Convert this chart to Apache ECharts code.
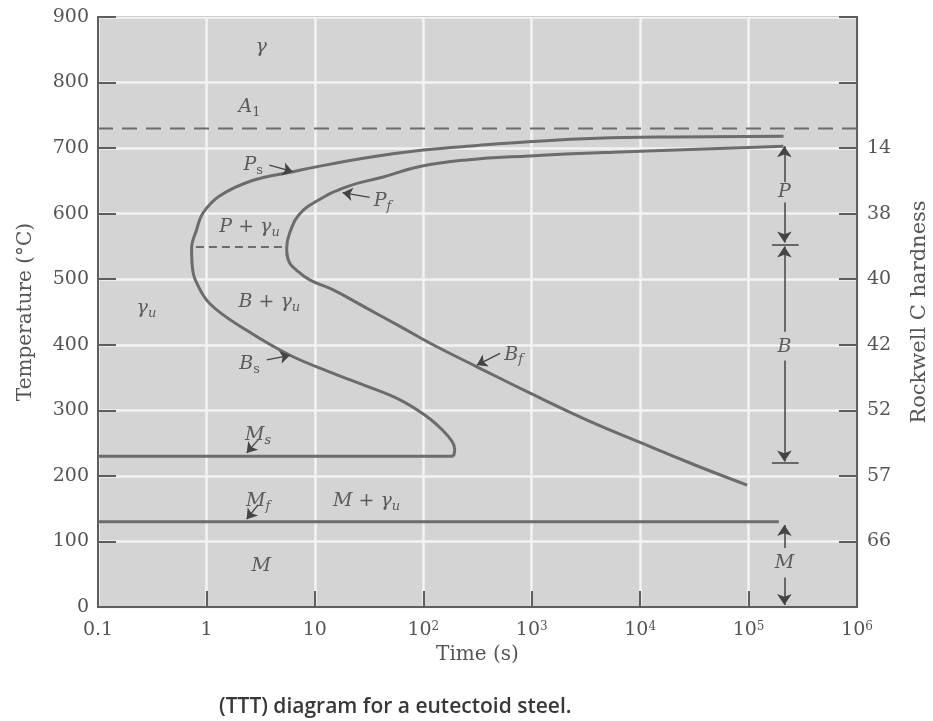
<!DOCTYPE html>
<html>
<head>
<meta charset="utf-8">
<title>TTT diagram</title>
<script src="https://cdn.jsdelivr.net/npm/echarts@6/dist/echarts.min.js"></script>
<style>
  html, body { margin: 0; padding: 0; background: #fff; }
  #ttt { width: 933px; height: 721px; }
</style>
</head>
<body>
<div id="ttt"></div>
<script>
// time in s (log axis), temperature in degC

const a1Line = [[0.1, 730], [1e6, 730]];

// start of transformation: Ps upper branch, nose, Bs lower branch
const psBsCurve = [
  [2.1e5, 718], [2e4, 717], [4e3, 715], [1e3, 710], [316, 704], [100, 697],
  [32, 686], [10, 671], [6.3, 664], [2.7, 651], [1.32, 627], [0.93, 601],
  [0.81, 575], [0.73, 547], [0.74, 520], [0.79, 499], [1.07, 463], [2.35, 422],
  [5.9, 384], [15, 356], [30, 337], [61, 316], [107, 291], [150, 270],
  [185, 252], [195, 240], [190, 230]
];

// end of transformation: Pf upper branch, nose, Bf
const pfBfCurve = [
  [2.1e5, 703], [6.5e3, 694], [950, 688], [251, 682], [93, 672], [42.7, 656],
  [19.6, 641], [10.35, 619], [7.1, 598], [6.0, 575], [5.5, 548], [5.8, 526],
  [6.76, 514], [8.97, 499], [14.6, 484], [30, 456], [61, 428], [123, 400],
  [316, 366], [1e3, 325], [3160, 286], [1e4, 251], [3.16e4, 217], [9.7e4, 186]
];

const msLine = [[190, 230], [0.1, 230]];
const mfLine = [[0.1, 130], [1.9e5, 130]];
const noseDash = [[0.8, 549], [5.6, 549]];

// small pointer arrows [tail, tip]
const pointers = [
  [[3.8, 674], [6.25, 664]],   // Ps
  [[32, 625], [18, 632]],      // Pf
  [[3.6, 377], [5.9, 384]],    // Bs
  [[510, 387], [312, 369]],    // Bf
  [[3.0, 255], [2.35, 235]],   // Ms
  [[3.0, 156], [2.35, 134]]    // Mf
];

// product ranges on the right
const rangeX = 2.14e5;
const rangeArrows = [
  [[rangeX, 648], [rangeX, 703]],
  [[rangeX, 617], [rangeX, 556]],
  [[rangeX, 420], [rangeX, 550]],
  [[rangeX, 376], [rangeX, 222]],
  [[rangeX, 90], [rangeX, 125]],
  [[rangeX, 45], [rangeX, 3]]
];
const rangeTicks = [
  [[1.64e5, 553], [2.9e5, 553]],
  [[1.64e5, 220], [2.9e5, 220]]
];

const regionLabels = [
  [3.2, 854, '{i|γ}'],
  [2.5, 763, '{i|A}{subr|1}'],
  [2.7, 674, '{i|P}{subr|s}'],
  [42, 619, '{i|P}{sub|f}'],
  [2.5, 580, '{i|P + γ}{sub|u}'],
  [3.8, 465, '{i|B + γ}{sub|u}'],
  [0.28, 456, '{i|γ}{sub|u}'],
  [2.5, 370, '{i|B}{subr|s}'],
  [680, 385, '{i|B}{sub|f}'],
  [3.0, 262, '{i|M}{sub|s}'],
  [3.0, 162, '{i|M}{sub|f}'],
  [30, 162, '{i|M + γ}{sub|u}'],
  [3.2, 62, '{i|M}'],
  [rangeX, 633, '{i|P}'],
  [rangeX, 397, '{i|B}'],
  [rangeX, 67, '{i|M}']
];

const timeTickLabels = ['0.1', '1', '10', '10{sup|2}', '10{sup|3}', '10{sup|4}', '10{sup|5}', '10{sup|6}'];
const hardnessTemps = [700, 600, 500, 400, 300, 200, 100];
const hardnessLabels = ['14', '38', '40', '42', '52', '57', '66'];

const serif = 'DejaVu Serif';
const ink = '#6c6c6c';
const textInk = '#3c3c3c';

const chartDom = document.getElementById('ttt');
const myChart = echarts.init(chartDom);

const curveStyle = { color: ink, width: 3 };

const option = {
  animation: false,
  backgroundColor: '#fff',
  title: {
    text: '(TTT) diagram for a eutectoid steel.',
    left: 214,
    top: 692,
    textStyle: { fontFamily: 'Open Sans', fontWeight: 600, fontSize: 21, color: '#383838' }
  },
  grid: {
    left: 98, right: 76, top: 17, bottom: 114,
    outerBoundsMode: 'none',
    show: true,
    backgroundColor: '#d4d4d4',
    borderColor: '#5e5e5e',
    borderWidth: 2
  },
  xAxis: {
    type: 'log',
    logBase: 10,
    min: 0.1,
    max: 1e6,
    name: 'Time (s)',
    nameLocation: 'middle',
    nameGap: 36,
    nameTextStyle: { fontFamily: serif, fontSize: 20, color: '#555' },
    axisLine: { lineStyle: { color: '#5e5e5e', width: 2 } },
    axisTick: { inside: true, length: 16, lineStyle: { color: '#5e5e5e', width: 2 } },
    splitLine: { show: true, lineStyle: { color: '#f3f3f3', width: 2.5 } },
    minorTick: { show: false },
    axisLabel: {
      margin: 14,
      fontFamily: serif,
      fontSize: 19,
      color: '#555',
      formatter: function (v) {
        const e = Math.round(Math.log10(v));
        return timeTickLabels[e + 1];
      },
      rich: {
        sup: { fontFamily: serif, fontSize: 12, color: '#555', lineHeight: 12, verticalAlign: 'top' }
      }
    }
  },
  yAxis: [
    {
      type: 'value',
      min: 0,
      max: 900,
      interval: 100,
      name: 'Temperature (°C)',
      nameLocation: 'middle',
      nameGap: 62,
      nameTextStyle: { fontFamily: serif, fontSize: 20, color: '#555' },
      axisLine: { show: true, lineStyle: { color: '#5e5e5e', width: 2 } },
      axisTick: { show: true, inside: true, length: 18, lineStyle: { color: '#5e5e5e', width: 2 } },
      splitLine: { show: true, lineStyle: { color: '#f3f3f3', width: 2.5 } },
      axisLabel: { margin: 9, fontFamily: serif, fontSize: 19, color: '#555' }
    },
    {
      type: 'value',
      position: 'right',
      min: 0,
      max: 900,
      interval: 100,
      name: 'Rockwell C hardness',
      nameLocation: 'middle',
      nameRotate: 90,
      nameGap: 52,
      nameTextStyle: { fontFamily: serif, fontSize: 21, color: '#555' },
      axisLine: { show: true, lineStyle: { color: '#5e5e5e', width: 2 } },
      axisTick: { show: true, inside: true, length: 18, lineStyle: { color: '#5e5e5e', width: 2 } },
      splitLine: { show: false },
      axisLabel: {
        margin: 10,
        fontFamily: serif,
        fontSize: 19,
        color: '#555',
        formatter: function (v) {
          const i = hardnessTemps.indexOf(v);
          return i >= 0 ? hardnessLabels[i] : '';
        }
      }
    }
  ],
  series: [
    {
      name: 'A1',
      type: 'line',
      data: a1Line,
      symbol: 'none',
      lineStyle: { color: ink, width: 2, type: [15, 9] },
      z: 3
    },
    {
      name: 'nose',
      type: 'line',
      data: noseDash,
      symbol: 'none',
      lineStyle: { color: ink, width: 2, type: [8, 5] },
      z: 3
    },
    {
      name: 'Ps-Bs',
      type: 'line',
      data: psBsCurve,
      symbol: 'none',
      smooth: 0.4,
      lineStyle: curveStyle,
      z: 4
    },
    {
      name: 'Ms',
      type: 'line',
      data: msLine,
      symbol: 'none',
      lineStyle: curveStyle,
      z: 4
    },
    {
      name: 'Pf-Bf',
      type: 'line',
      data: pfBfCurve,
      symbol: 'none',
      smooth: 0.45,
      lineStyle: curveStyle,
      z: 4
    },
    {
      name: 'Mf',
      type: 'line',
      data: mfLine,
      symbol: 'none',
      lineStyle: curveStyle,
      z: 4
    },
    {
      name: 'pointers',
      type: 'lines',
      coordinateSystem: 'cartesian2d',
      symbol: ['none', 'arrow'],
      symbolSize: [7, 10],
      lineStyle: { color: '#444', width: 1.3, opacity: 1 },
      data: pointers.map(p => ({ coords: p })),
      z: 5
    },
    {
      name: 'ranges',
      type: 'lines',
      coordinateSystem: 'cartesian2d',
      symbol: ['none', 'arrow'],
      symbolSize: [7, 11],
      lineStyle: { color: '#444', width: 1.5, opacity: 1 },
      data: rangeArrows.map(p => ({ coords: p })),
      z: 5
    },
    {
      name: 'rangeTicks',
      type: 'lines',
      coordinateSystem: 'cartesian2d',
      symbol: 'none',
      lineStyle: { color: '#444', width: 1.5, opacity: 1 },
      data: rangeTicks.map(p => ({ coords: p })),
      z: 5
    },
    {
      name: 'labels',
      type: 'scatter',
      data: regionLabels,
      symbolSize: 1,
      itemStyle: { color: 'rgba(0,0,0,0)' },
      label: {
        show: true,
        position: 'inside',
        formatter: p => p.data[2],
        rich: {
          i: { fontFamily: serif, fontStyle: 'italic', fontSize: 19, color: textInk, lineHeight: 24 },
          sub: { fontFamily: serif, fontStyle: 'italic', fontSize: 13, color: textInk, lineHeight: 12, verticalAlign: 'bottom' },
          subr: { fontFamily: serif, fontSize: 13, color: textInk, lineHeight: 12, verticalAlign: 'bottom' }
        }
      },
      z: 6
    }
  ]
};

myChart.setOption(option);

window.addEventListener('resize', function () {
  myChart.resize();
});
</script>
</body>
</html>
